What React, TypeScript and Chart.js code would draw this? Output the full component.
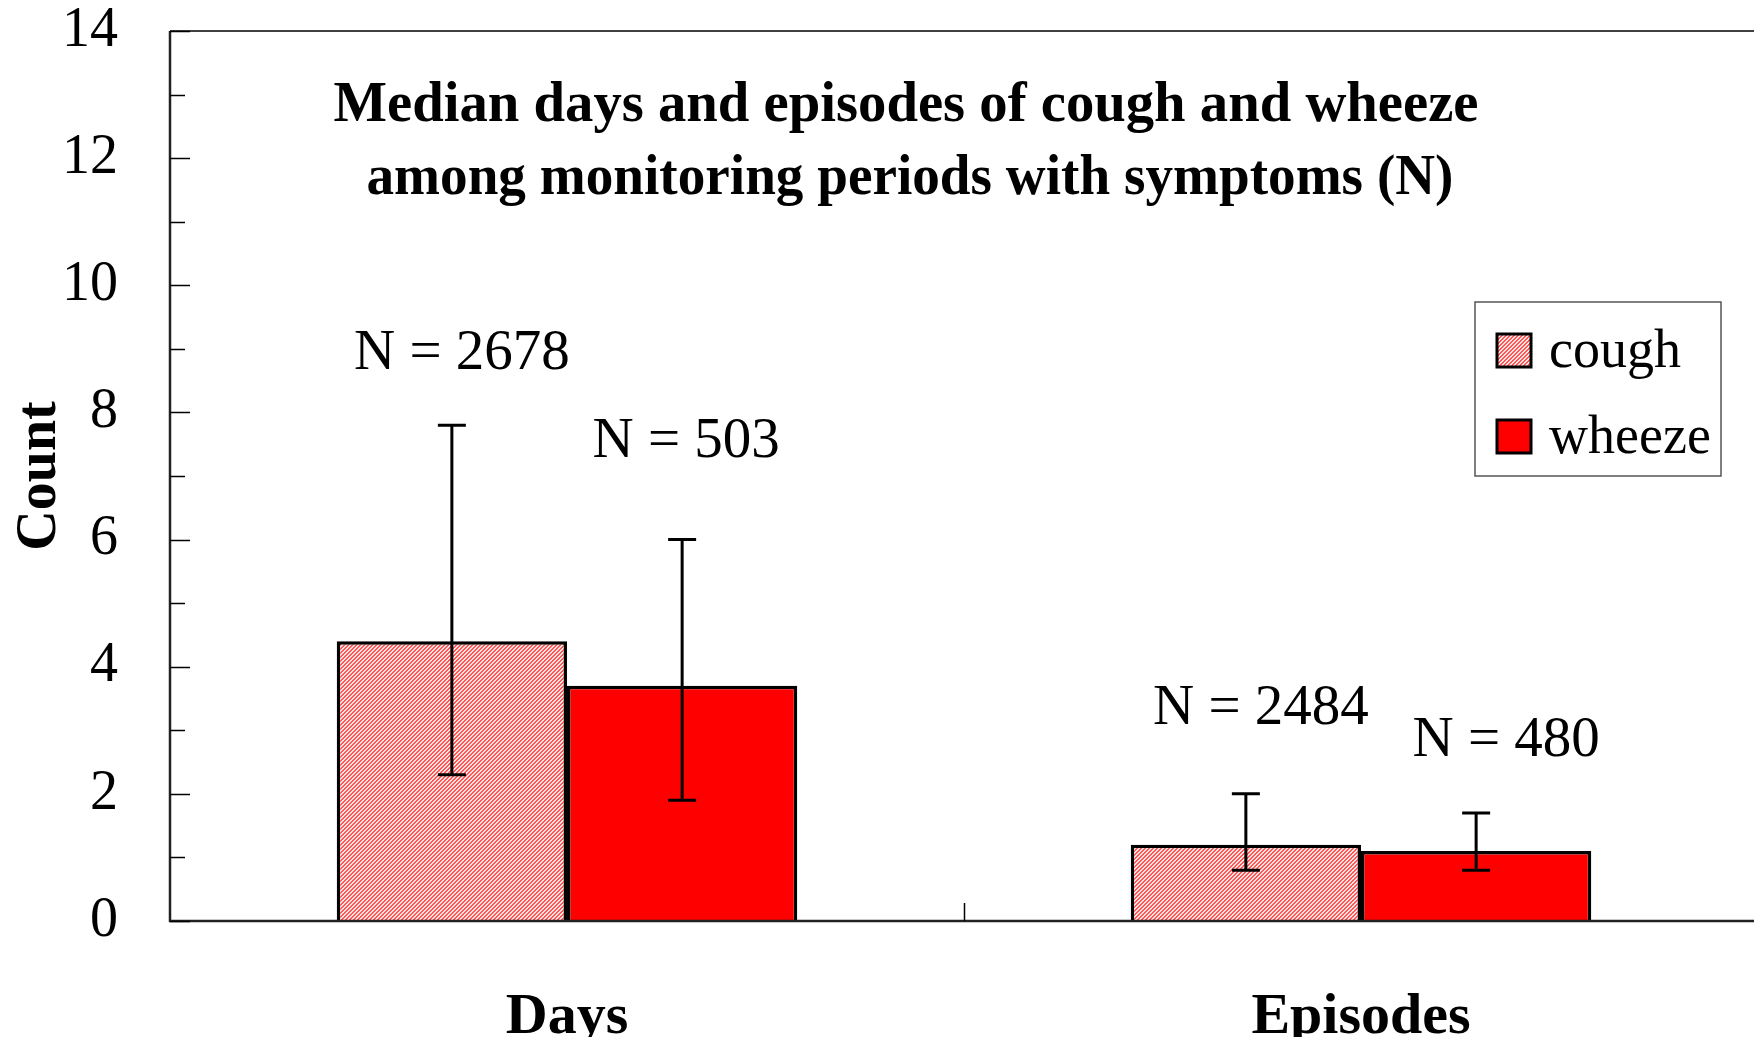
import React, { useEffect, useRef } from "react";
import { Chart, registerables } from "chart.js";

Chart.register(...registerables);

const categories = ["Days", "Episodes"];
const seriesNames = ["cough", "wheeze"];
const coughMedian = [4.4, 1.2];
const wheezeMedian = [3.7, 1.1];
const coughLow = [2.3, 0.8];
const coughHigh = [7.8, 2.0];
const wheezeLow = [1.9, 0.8];
const wheezeHigh = [6.0, 1.7];
const coughN = ["N = 2678", "N = 2484"];
const wheezeN = ["N = 503", "N = 480"];
const yMin = 0;
const yMax = 14;
const yStep = 2;
const yAxisTitle = "Count";
const titleLines = [
  "Median days and episodes of cough and wheeze",
  "among monitoring periods with symptoms (N)",
];

const SERIF = "'Liberation Serif', 'Times New Roman', serif";

function makeHatch(): CanvasPattern | string {
  const c = document.createElement("canvas");
  c.width = 4;
  c.height = 4;
  const g = c.getContext("2d");
  if (!g) return "#f48080";
  const img = g.createImageData(4, 4);
  for (let y = 0; y < 4; y++) {
    for (let x = 0; x < 4; x++) {
      const d = (x + y) % 4;
      const red = d === 0 || d === 1;
      const i = (y * 4 + x) * 4;
      img.data[i] = 255;
      img.data[i + 1] = red ? 85 : 228;
      img.data[i + 2] = red ? 85 : 228;
      img.data[i + 3] = 255;
    }
  }
  g.putImageData(img, 0, 0);
  const p = g.createPattern(c, "repeat");
  return p || "#f48080";
}

const decorPlugin = {
  id: "decor",
  afterDatasetsDraw(chart: any) {
    const { ctx, chartArea, scales } = chart;
    const yS = scales.y;
    const xS = scales.x;
    const lows = [coughLow, wheezeLow];
    const highs = [coughHigh, wheezeHigh];
    ctx.save();
    // error bars
    ctx.strokeStyle = "#000";
    ctx.lineWidth = 3;
    for (let d = 0; d < 2; d++) {
      const meta = chart.getDatasetMeta(d);
      meta.data.forEach((el: any, j: number) => {
        const x = el.x;
        const yl = yS.getPixelForValue(lows[d][j]);
        const yh = yS.getPixelForValue(highs[d][j]);
        ctx.beginPath();
        ctx.moveTo(x, yl);
        ctx.lineTo(x, yh);
        ctx.moveTo(x - 14, yl);
        ctx.lineTo(x + 14, yl);
        ctx.moveTo(x - 14, yh);
        ctx.lineTo(x + 14, yh);
        ctx.stroke();
      });
    }
    // axes
    ctx.lineWidth = 2.5;
    ctx.strokeStyle = "#222";
    ctx.beginPath();
    ctx.moveTo(chartArea.left, chartArea.top);
    ctx.lineTo(chartArea.left, chartArea.bottom);
    ctx.lineTo(chartArea.right, chartArea.bottom);
    ctx.stroke();
    ctx.lineWidth = 1.5;
    ctx.strokeStyle = "#000";
    ctx.beginPath();
    ctx.moveTo(chartArea.left, chartArea.top);
    ctx.lineTo(chartArea.right, chartArea.top);
    ctx.stroke();
    // y ticks (inward), major and minor
    ctx.lineWidth = 1.5;
    ctx.strokeStyle = "#000";
    for (let v = yMin; v <= yMax; v += yStep / 2) {
      const y = Math.round(yS.getPixelForValue(v)) + 0.5;
      const major = Math.abs(v % yStep) < 1e-9;
      const len = major ? 20 : 15;
      ctx.beginPath();
      ctx.moveTo(chartArea.left, y);
      ctx.lineTo(chartArea.left + len, y);
      ctx.stroke();
    }
    // category separator ticks
    for (let i = 1; i < categories.length; i++) {
      const x = Math.round((xS.getPixelForValue(i - 1) + xS.getPixelForValue(i)) / 2) + 0.5;
      ctx.beginPath();
      ctx.moveTo(x, chartArea.bottom);
      ctx.lineTo(x, chartArea.bottom - 18);
      ctx.stroke();
    }
    // N labels
    ctx.fillStyle = "#000";
    ctx.font = `57px ${SERIF}`;
    ctx.textAlign = "center";
    ctx.textBaseline = "alphabetic";
    const labels = [coughN, wheezeN];
    const offsets = [
      [[10, -56], [15, -70]],
      [[4, -83], [30, -57]],
    ];
    for (let d = 0; d < 2; d++) {
      const meta = chart.getDatasetMeta(d);
      meta.data.forEach((el: any, j: number) => {
        const yh = yS.getPixelForValue(highs[d][j]);
        ctx.fillText(labels[d][j], el.x + offsets[d][j][0], yh + offsets[d][j][1]);
      });
    }
    // title
    ctx.font = `bold 58px ${SERIF}`;
    const cx = chartArea.left + 736;
    ctx.fillText(titleLines[0], cx, 121, 1145);
    ctx.fillText(titleLines[1], cx + 4, 194, 1087);
    // legend
    const lx = 1475, ly = 302, lw = 246, lh = 174;
    ctx.fillStyle = "#fff";
    ctx.fillRect(lx, ly, lw, lh);
    ctx.strokeStyle = "#555";
    ctx.lineWidth = 1.5;
    ctx.strokeRect(lx, ly, lw, lh);
    const fills = [chart.data.datasets[0].backgroundColor, chart.data.datasets[1].backgroundColor];
    const rowY = [334, 420];
    ctx.font = `54px ${SERIF}`;
    ctx.textAlign = "left";
    for (let i = 0; i < 2; i++) {
      ctx.fillStyle = fills[i];
      ctx.fillRect(lx + 22, rowY[i], 34, 33);
      ctx.strokeStyle = "#000";
      ctx.lineWidth = 3;
      ctx.strokeRect(lx + 22, rowY[i], 34, 33);
      ctx.fillStyle = "#000";
      ctx.fillText(seriesNames[i], lx + 74, rowY[i] + 33);
    }
    ctx.restore();
  },
};

export default function App() {
  const ref = useRef<HTMLCanvasElement | null>(null);
  useEffect(() => {
    const canvas = ref.current;
    if (!canvas) return;
    const hatch = makeHatch();
    const chart = new Chart(canvas, {
      type: "bar",
      data: {
        labels: categories,
        datasets: [
          {
            label: seriesNames[0],
            data: coughMedian,
            backgroundColor: hatch as any,
            borderColor: "#000",
            borderWidth: 3.5,
            categoryPercentage: 0.58,
            barPercentage: 1,
          },
          {
            label: seriesNames[1],
            data: wheezeMedian,
            backgroundColor: "#ff0000",
            borderColor: "#000",
            borderWidth: 3.5,
            categoryPercentage: 0.58,
            barPercentage: 1,
          },
        ],
      },
      options: {
        animation: false,
        responsive: false,
        maintainAspectRatio: false,
        layout: { padding: { top: 31, left: 0, right: 0, bottom: 0 } },
        plugins: {
          legend: { display: false },
          tooltip: { enabled: false },
          title: { display: false },
        },
        scales: {
          x: {
            grid: { display: false },
            border: { display: false },
            ticks: {
              color: "#000",
              padding: 54,
              font: { family: SERIF, size: 58, weight: "bold" },
            },
            afterFit: (s: any) => {
              s.height = 116;
              s.paddingLeft = 0;
              s.paddingRight = 0;
            },
          },
          y: {
            min: yMin,
            max: yMax,
            grid: { display: false },
            border: { display: false },
            ticks: {
              stepSize: yStep,
              color: "#000",
              padding: 44,
              font: { family: SERIF, size: 56 },
            },
            title: {
              display: true,
              text: yAxisTitle,
              color: "#000",
              font: { family: SERIF, size: 56, weight: "bold" },
              padding: { top: 7, bottom: 0 },
            },
            afterFit: (s: any) => {
              s.width = 170;
              s.paddingTop = 0;
              s.paddingBottom = 0;
            },
          },
        },
      },
      plugins: [decorPlugin],
    });
    return () => chart.destroy();
  }, []);
  return (
    <div
      style={{
        position: "fixed",
        left: 0,
        top: 0,
        width: 1754,
        height: 1037,
        overflow: "hidden",
        background: "#fff",
      }}
    >
      <canvas ref={ref} width={1758} height={1037} style={{ display: "block" }} />
    </div>
  );
}
